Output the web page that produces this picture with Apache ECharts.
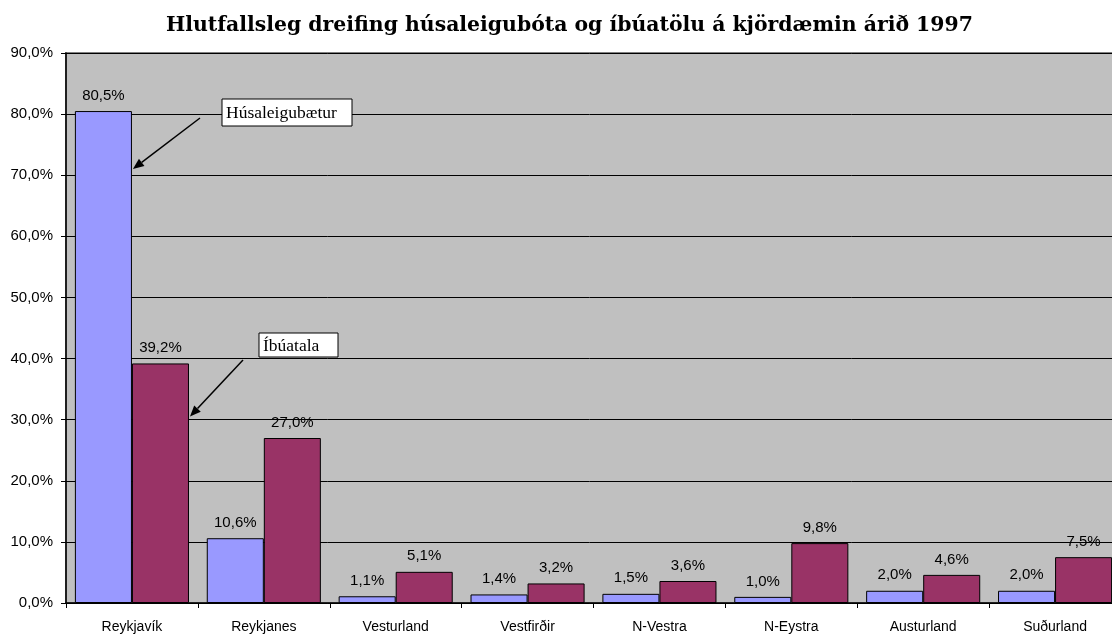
<!DOCTYPE html>
<html>
<head>
<meta charset="utf-8">
<script src="https://cdn.jsdelivr.net/npm/echarts@6/dist/echarts.min.js"></script>
<style>
  html, body { margin: 0; padding: 0; background: #ffffff; }
  #chart { width: 1112px; height: 634px; }
</style>
</head>
<body>
<div id="chart"></div>
<script>
// Kjördæmi (constituencies)
const categories = ['Reykjavík', 'Reykjanes', 'Vesturland', 'Vestfirðir', 'N-Vestra', 'N-Eystra', 'Austurland', 'Suðurland'];
// Share of housing benefits (%)
const husaleigubaetur = [80.5, 10.6, 1.1, 1.4, 1.5, 1.0, 2.0, 2.0];
// Share of population (%)
const ibuatala = [39.2, 27.0, 5.1, 3.2, 3.6, 9.8, 4.6, 7.5];
// Value axis
const yMin = 0, yMax = 90, yStep = 10;

const pct = v => v.toFixed(1).replace('.', ',') + '%';
const SANS = 'Liberation Sans, Arial, sans-serif';
const GAP = 0.135;

const chart = echarts.init(document.getElementById('chart'));

const labelCfg = {
  show: true,
  position: 'top',
  distance: 8,
  color: '#000',
  fontFamily: SANS,
  fontSize: 15,
  formatter: p => pct(p.value)
};

chart.setOption({
  animation: false,
  title: {
    text: 'Hlutfallsleg dreifing húsaleigubóta og íbúatölu á kjördæmin árið 1997',
    left: 161,
    top: 11,
    textStyle: {
      fontFamily: 'DejaVu Serif, serif',
      fontWeight: 'bold',
      fontSize: 20.4,
      color: '#000'
    }
  },
  grid: {
    left: 66,
    right: -9,
    top: 53,
    bottom: 31,
    outerBoundsMode: 'none',
    containLabel: false,
    show: true,
    backgroundColor: '#C0C0C0',
    borderColor: '#808080',
    borderWidth: 2
  },
  xAxis: {
    type: 'category',
    data: categories,
    axisLine: { lineStyle: { color: '#000', width: 1.5 } },
    axisTick: { show: true, alignWithLabel: false, length: 5, lineStyle: { color: '#000' } },
    axisLabel: {
      color: '#000',
      fontFamily: SANS,
      fontSize: 14,
      margin: 17,
      interval: 0
    },
    splitLine: { show: false }
  },
  yAxis: {
    type: 'value',
    min: yMin,
    max: yMax,
    interval: yStep,
    axisLine: { show: true, lineStyle: { color: '#000', width: 1.5 } },
    axisTick: { show: true, length: 5, lineStyle: { color: '#000' } },
    axisLabel: {
      color: '#000',
      fontFamily: SANS,
      fontSize: 15,
      margin: 13,
      formatter: v => pct(v)
    },
    splitLine: { show: true, lineStyle: { color: '#000', width: 1 } }
  },
  series: [
    {
      name: 'Húsaleigubætur',
      type: 'bar',
      data: husaleigubaetur,
      barGap: '0%',
      barCategoryGap: (GAP * 100) + '%',
      itemStyle: { color: '#9999FF', borderColor: '#000', borderWidth: 1 },
      label: labelCfg
    },
    {
      name: 'Íbúatala',
      type: 'bar',
      data: ibuatala,
      barGap: '0%',
      barCategoryGap: (GAP * 100) + '%',
      itemStyle: { color: '#993366', borderColor: '#000', borderWidth: 1 },
      label: labelCfg
    }
  ]
});

// Callout boxes with arrows pointing at the Reykjavík bars
function callout(text, boxX, boxY, boxW, boxH, fromX, fromY, toX, toY) {
  const ang = Math.atan2(toY - fromY, toX - fromX);
  const len = 11, half = 4.5;
  const bx = toX - len * Math.cos(ang), by = toY - len * Math.sin(ang);
  const nx = -Math.sin(ang) * half, ny = Math.cos(ang) * half;
  return [
    {
      type: 'line',
      shape: { x1: fromX, y1: fromY, x2: bx, y2: by },
      style: { stroke: '#000', lineWidth: 1.5 },
      z: 100
    },
    {
      type: 'polygon',
      shape: { points: [[toX, toY], [bx + nx, by + ny], [bx - nx, by - ny]] },
      style: { fill: '#000' },
      z: 100
    },
    {
      type: 'rect',
      shape: { x: boxX, y: boxY, width: boxW, height: boxH },
      style: { fill: '#fff', stroke: '#000', lineWidth: 1 },
      z: 100
    },
    {
      type: 'text',
      x: boxX + 4,
      y: boxY + boxH / 2 + 1,
      style: {
        text: text,
        fill: '#000',
        font: '17.5px "Liberation Serif", "Times New Roman", serif',
        verticalAlign: 'middle'
      },
      z: 101
    }
  ];
}

const tip1 = chart.convertToPixel({ seriesIndex: 0 }, [0, 71]);
const tip2 = chart.convertToPixel({ seriesIndex: 1 }, [0, 30.5]);
// right edges of the two Reykjavík bars
const catW = chart.convertToPixel({ xAxisIndex: 0 }, 1) - chart.convertToPixel({ xAxisIndex: 0 }, 0);
const barW = catW * (1 - GAP) / 2;
const c0 = chart.convertToPixel({ xAxisIndex: 0 }, 0);

chart.setOption({
  graphic: [
    ...callout('Húsaleigubætur', 222, 99, 130, 27, 200, 118, c0 + 1, tip1[1]),
    ...callout('Íbúatala', 259, 333, 79, 24, 243, 360, c0 + barW + 1, tip2[1])
  ]
});
</script>
</body>
</html>
